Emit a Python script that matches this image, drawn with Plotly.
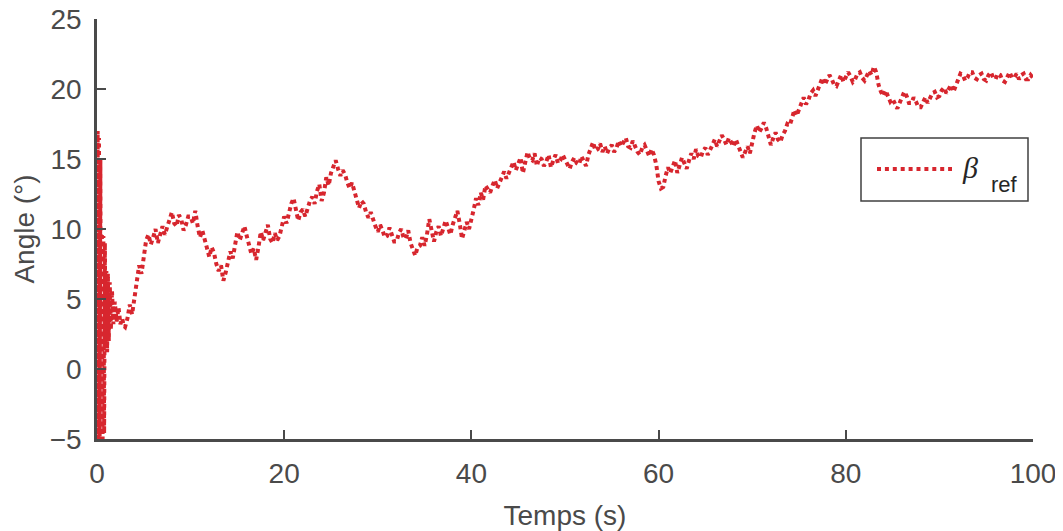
import plotly.graph_objects as go

# Initial transient (s, deg)
t_start = [0.0, 0.07, 0.14, 0.21, 0.28, 0.36, 0.44, 0.52, 0.60, 0.68, 0.76, 0.84, 0.92,
           1.0, 1.08, 1.16, 1.26, 1.36, 1.48, 1.6, 1.75, 1.9, 2.1, 2.3, 2.5, 2.7, 2.85]
y_start = [-5, 17, -5, 16.5, -4.8, 15, -5, 9.7, -5, 9.5, -4.6, 9, 1.5, 7, 1.2, 6.8, 2,
           6.2, 2.8, 5.6, 3.2, 4.8, 3.4, 4.4, 3.2, 3.6, 3.1]

# Main record, one row per second (sampled every 0.25 s)
t_main = [
    3.0, 3.25, 3.5, 3.75, 4.0, 4.25, 4.5, 4.75, 5.0, 5.25, 5.5, 5.75, 6.0, 6.25, 6.5, 6.75,
    7.0, 7.25, 7.5, 7.75, 8.0, 8.25, 8.5, 8.75, 9.0, 9.25, 9.5, 9.75, 10.0, 10.25, 10.5, 10.75,
    11.0, 11.25, 11.5, 11.75, 12.0, 12.25, 12.5, 12.75, 13.0, 13.25, 13.5, 13.75, 14.0, 14.25, 14.5, 14.75,
    15.0, 15.25, 15.5, 15.75, 16.0, 16.25, 16.5, 16.75, 17.0, 17.25, 17.5, 17.75, 18.0, 18.25, 18.5, 18.75,
    19.0, 19.25, 19.5, 19.75, 20.0, 20.25, 20.5, 20.75, 21.0, 21.25, 21.5, 21.75, 22.0, 22.25, 22.5, 22.75,
    23.0, 23.25, 23.5, 23.75, 24.0, 24.25, 24.5, 24.75, 25.0, 25.25, 25.5, 25.75, 26.0, 26.25, 26.5, 26.75,
    27.0, 27.25, 27.5, 27.75, 28.0, 28.25, 28.5, 28.75, 29.0, 29.25, 29.5, 29.75, 30.0, 30.25, 30.5, 30.75,
    31.0, 31.25, 31.5, 31.75, 32.0, 32.25, 32.5, 32.75, 33.0, 33.25, 33.5, 33.75, 34.0, 34.25, 34.5, 34.75,
    35.0, 35.25, 35.5, 35.75, 36.0, 36.25, 36.5, 36.75, 37.0, 37.25, 37.5, 37.75, 38.0, 38.25, 38.5, 38.75,
    39.0, 39.25, 39.5, 39.75, 40.0, 40.25, 40.5, 40.75, 41.0, 41.25, 41.5, 41.75, 42.0, 42.25, 42.5, 42.75,
    43.0, 43.25, 43.5, 43.75, 44.0, 44.25, 44.5, 44.75, 45.0, 45.25, 45.5, 45.75, 46.0, 46.25, 46.5, 46.75,
    47.0, 47.25, 47.5, 47.75, 48.0, 48.25, 48.5, 48.75, 49.0, 49.25, 49.5, 49.75, 50.0, 50.25, 50.5, 50.75,
    51.0, 51.25, 51.5, 51.75, 52.0, 52.25, 52.5, 52.75, 53.0, 53.25, 53.5, 53.75, 54.0, 54.25, 54.5, 54.75,
    55.0, 55.25, 55.5, 55.75, 56.0, 56.25, 56.5, 56.75, 57.0, 57.25, 57.5, 57.75, 58.0, 58.25, 58.5, 58.75,
    59.0, 59.25, 59.5, 59.75, 60.0, 60.25, 60.5, 60.75, 61.0, 61.25, 61.5, 61.75, 62.0, 62.25, 62.5, 62.75,
    63.0, 63.25, 63.5, 63.75, 64.0, 64.25, 64.5, 64.75, 65.0, 65.25, 65.5, 65.75, 66.0, 66.25, 66.5, 66.75,
    67.0, 67.25, 67.5, 67.75, 68.0, 68.25, 68.5, 68.75, 69.0, 69.25, 69.5, 69.75, 70.0, 70.25, 70.5, 70.75,
    71.0, 71.25, 71.5, 71.75, 72.0, 72.25, 72.5, 72.75, 73.0, 73.25, 73.5, 73.75, 74.0, 74.25, 74.5, 74.75,
    75.0, 75.25, 75.5, 75.75, 76.0, 76.25, 76.5, 76.75, 77.0, 77.25, 77.5, 77.75, 78.0, 78.25, 78.5, 78.75,
    79.0, 79.25, 79.5, 79.75, 80.0, 80.25, 80.5, 80.75, 81.0, 81.25, 81.5, 81.75, 82.0, 82.25, 82.5, 82.75,
    83.0, 83.25, 83.5, 83.75, 84.0, 84.25, 84.5, 84.75, 85.0, 85.25, 85.5, 85.75, 86.0, 86.25, 86.5, 86.75,
    87.0, 87.25, 87.5, 87.75, 88.0, 88.25, 88.5, 88.75, 89.0, 89.25, 89.5, 89.75, 90.0, 90.25, 90.5, 90.75,
    91.0, 91.25, 91.5, 91.75, 92.0, 92.25, 92.5, 92.75, 93.0, 93.25, 93.5, 93.75, 94.0, 94.25, 94.5, 94.75,
    95.0, 95.25, 95.5, 95.75, 96.0, 96.25, 96.5, 96.75, 97.0, 97.25, 97.5, 97.75, 98.0, 98.25, 98.5, 98.75,
    99.0, 99.25, 99.5, 99.75, 100.0,
]
y_main = [
    3.0, 3.6, 4.6, 3.9, 5.2, 6.6, 7.4, 6.8, 8.0, 9.2, 9.6, 8.9, 9.4, 10.0, 9.0, 9.6,
    10.2, 9.6, 10.1, 10.8, 11.2, 10.4, 10.2, 11.0, 10.7, 9.9, 10.3, 10.9, 10.9, 10.4, 11.3, 10.2,
    9.4, 9.9, 9.2, 8.6, 8.0, 8.7, 8.3, 7.5, 7.0, 7.4, 6.3, 6.9, 7.6, 8.4, 7.9, 8.8,
    9.8, 9.2, 9.8, 10.2, 9.5, 8.9, 8.2, 8.6, 7.8, 8.7, 9.8, 9.2, 9.9, 10.3, 9.3, 9.0,
    9.7, 9.2, 9.5, 10.1, 10.9, 10.4, 11.2, 11.8, 12.2, 11.3, 10.6, 11.2, 11.4, 10.9, 11.5, 12.0,
    12.3, 11.8, 12.7, 13.2, 12.0, 12.6, 13.7, 13.1, 14.0, 14.5, 14.9, 14.3, 13.8, 14.2, 13.9, 13.3,
    12.9, 13.3, 12.6, 12.1, 11.5, 12.0, 11.8, 11.2, 10.8, 11.2, 10.6, 10.2, 9.8, 10.3, 9.9, 9.4,
    9.5, 10.1, 9.6, 9.1, 9.1, 9.7, 10.0, 9.4, 9.3, 9.9, 9.0, 8.6, 8.1, 8.7, 8.8, 9.4,
    8.8, 9.6, 10.7, 9.9, 9.1, 9.8, 10.2, 9.5, 10.0, 10.6, 10.1, 9.6, 10.3, 10.9, 11.3, 10.4,
    9.3, 9.9, 10.5, 10.0, 10.6, 11.4, 12.2, 11.7, 12.6, 12.1, 13.1, 12.8, 12.6, 13.1, 13.5, 12.9,
    13.3, 13.8, 14.1, 13.6, 14.0, 14.5, 14.8, 14.2, 14.6, 15.1, 14.0, 14.7, 15.5, 15.0, 14.9, 15.4,
    14.5, 15.1, 15.0, 14.5, 14.8, 15.3, 14.4, 14.9, 15.3, 14.7, 14.9, 15.3, 15.0, 14.6, 14.3, 14.8,
    15.1, 14.7, 14.6, 15.2, 14.9, 14.5, 15.3, 15.8, 16.2, 15.6, 15.7, 16.1, 15.5, 15.9, 15.4, 15.8,
    16.0, 15.5, 15.8, 16.3, 15.9, 16.2, 16.5, 15.9, 15.8, 16.3, 15.9, 15.5, 15.3, 15.8, 16.0, 15.5,
    15.2, 15.7, 15.3, 14.6, 13.4, 12.9, 13.0, 13.8, 14.4, 14.0, 14.5, 14.9, 14.0, 14.6, 15.1, 14.7,
    14.3, 14.9, 15.4, 15.0, 15.7, 15.2, 15.1, 15.6, 15.8, 15.3, 15.6, 16.0, 16.4, 15.9, 16.3, 16.7,
    16.4, 16.0, 16.5, 16.2, 15.9, 16.4, 16.0, 15.6, 15.1, 15.5, 15.9, 15.4, 16.3, 16.9, 17.4, 16.9,
    17.2, 17.6, 17.2, 16.7, 16.0, 16.5, 16.9, 16.4, 16.2, 16.7, 17.0, 17.5, 17.4, 17.9, 18.5, 18.1,
    18.6, 19.1, 19.4, 18.9, 19.2, 19.7, 19.9, 19.5, 20.0, 20.5, 20.8, 20.3, 20.6, 21.0, 20.7, 20.3,
    20.2, 20.6, 21.0, 20.5, 20.8, 21.2, 20.9, 20.5, 20.7, 21.1, 21.2, 20.8, 20.6, 21.0, 21.3, 21.0,
    21.6, 21.2, 20.3, 19.8, 19.5, 19.9, 19.5, 19.1, 19.3, 18.9, 18.6, 19.0, 19.4, 19.8, 19.5, 19.0,
    19.0, 19.4, 19.1, 18.7, 18.7, 19.1, 19.4, 19.0, 19.3, 19.7, 19.8, 19.4, 19.5, 19.9, 20.1, 19.7,
    20.0, 20.3, 19.8, 20.3, 20.8, 21.1, 21.0, 20.6, 20.8, 21.2, 21.2, 20.8, 20.7, 21.0, 21.1, 20.7,
    20.6, 21.0, 21.2, 20.8, 20.7, 21.1, 21.0, 20.6, 20.5, 20.9, 21.2, 20.8, 20.8, 21.1, 20.7, 21.0,
    21.1, 20.7, 20.7, 21.0, 20.8,
]

t_all = t_start + t_main
y_all = y_start + y_main

x_ticks = [0, 20, 40, 60, 80, 100]
y_ticks = [-5, 0, 5, 10, 15, 20, 25]
series_label = "β"
series_sub = "ref"

line_color = "#D7262E"
axis_color = "#4A4A4A"
font_family = "Liberation Sans, Arial, sans-serif"

fig = go.Figure()
fig.add_trace(go.Scatter(
    x=t_all, y=y_all, mode="lines",
    line=dict(color=line_color, width=4, dash="4px,3.5px"),
    name=series_label + series_sub, showlegend=False,
))

# Custom legend box (paper coordinates), positions given in page pixels
L, R, T, B = 97, 1033, 19, 439
def px(x):
    return (x - L) / (R - L)
def py(y):
    return (B - y) / (B - T)

shapes = [
    dict(type="rect", xref="paper", yref="paper",
         x0=px(861), x1=px(1028), y0=py(201), y1=py(138),
         line=dict(color="#404040", width=1.5), fillcolor="white", layer="above"),
    dict(type="line", xref="paper", yref="paper",
         x0=px(877), x1=px(952), y0=py(169), y1=py(169),
         line=dict(color=line_color, width=4, dash="4px,3.9px"), layer="above"),
]
annotations = [
    dict(text="<i>" + series_label + "</i>", xref="paper", yref="paper",
         x=px(960), y=py(167), xanchor="left", yanchor="middle", showarrow=False,
         font=dict(family="Liberation Serif, DejaVu Serif, serif", size=30, color="#262626")),
    dict(text=series_sub, xref="paper", yref="paper",
         x=px(989), y=py(184), xanchor="left", yanchor="middle", showarrow=False,
         font=dict(family=font_family, size=22, color="#262626")),
]

# page has an 8px body margin, so the figure is shifted by 8px
fig.update_layout(
    width=1055, height=523,
    margin=dict(l=89, r=30, t=11, b=92, autoexpand=False),
    paper_bgcolor="white", plot_bgcolor="white",
    font=dict(family=font_family, color=axis_color, size=28),
    showlegend=False,
    shapes=shapes, annotations=annotations,
    xaxis=dict(
        range=[0, 100], tickvals=x_ticks, automargin=False,
        showline=True, linecolor=axis_color, linewidth=2.5,
        ticks="inside", ticklen=9, tickwidth=1.5, tickcolor=axis_color,
        showgrid=False, zeroline=False, mirror=False,
        ticklabelstandoff=8, ticklabeloverflow="allow",
        title=dict(text="Temps (s)", font=dict(size=28), standoff=19),
        tickfont=dict(size=28),
    ),
    yaxis=dict(
        range=[-5, 25], tickvals=y_ticks, automargin=False,
        showline=True, linecolor=axis_color, linewidth=2.5,
        ticks="inside", ticklen=9, tickwidth=1.5, tickcolor=axis_color,
        showgrid=False, zeroline=False, mirror=False,
        ticklabelstandoff=7, ticklabeloverflow="allow",
        title=dict(text="Angle (°)", font=dict(size=28), standoff=7),
        tickfont=dict(size=28),
    ),
)

fig.write_html("out.html")
